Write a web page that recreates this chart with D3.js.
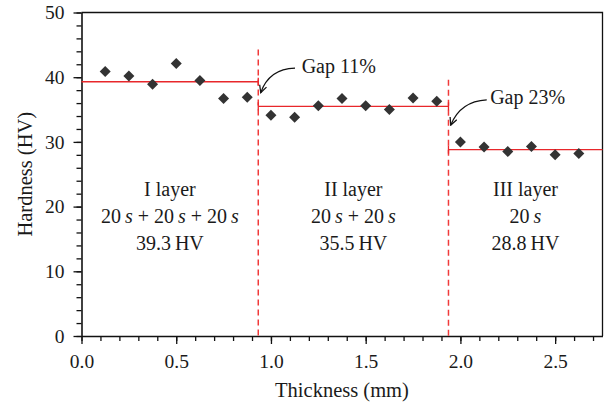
<!DOCTYPE html>
<meta charset="utf-8">
<title>Hardness by layer</title>
<style>
body { margin: 0; background: #fff; }
text { font-family: "Liberation Serif", "Times New Roman", serif; fill: #1a1a1a; }
</style>
<svg width="606" height="408"></svg>
<script src="https://d3js.org/d3.v7.min.js"></script>
<script>
// measured points (thickness in mm, hardness in HV)
var thickness = [0.125, 0.25, 0.375, 0.5, 0.625, 0.75, 0.875,
                 1.0, 1.125, 1.25, 1.375, 1.5, 1.625, 1.75, 1.875,
                 2.0, 2.125, 2.25, 2.375, 2.5, 2.625];
var hardness = [40.9, 40.2, 38.9, 42.1, 39.5, 36.7, 36.9,
                34.1, 33.8, 35.6, 36.7, 35.6, 35.0, 36.8, 36.3,
                30.0, 29.2, 28.5, 29.3, 28.0, 28.2];

// layers: boundaries, mean hardness and labels
var layerStart = [0, 0.933, 1.937];
var layerEnd = [0.933, 1.937, 2.75];
var layerMean = [39.3, 35.5, 28.8];
var layerName = ["I layer", "II layer", "III layer"];
var layerTimes = [3, 2, 1]; // number of 20 s passes
var dashTop = [44.3, 39.6]; // top of the dashed boundary lines

var gapLabels = ["Gap 11%", "Gap 23%"];

var svg = d3.select("svg");
var margin = {top: 12.5, right: 3.5, bottom: 72, left: 81.5};
var width = 606 - margin.left - margin.right;
var height = 408 - margin.top - margin.bottom;

var x = d3.scaleLinear().domain([0, 2.75]).range([0, width]);
var y = d3.scaleLinear().domain([0, 50]).range([height, 0]);

var g = svg.append("g").attr("transform", "translate(" + margin.left + "," + margin.top + ")");

// frame top and right
g.append("path")
    .attr("d", "M0,0H" + width + "V" + height)
    .attr("fill", "none")
    .attr("stroke", "#111")
    .attr("stroke-width", 1.3);

// minor ticks
g.append("g")
    .attr("transform", "translate(0," + height + ")")
    .call(d3.axisBottom(x).tickValues(d3.range(0, 2.76, 0.1)).tickSize(5).tickFormat(""))
    .call(function(s) { s.select(".domain").remove(); });
g.append("g")
    .call(d3.axisLeft(y).tickValues(d3.range(0, 51, 2)).tickSize(5).tickFormat(""))
    .call(function(s) { s.select(".domain").remove(); });

// major ticks
g.append("g")
    .attr("transform", "translate(0," + height + ")")
    .call(d3.axisBottom(x).tickValues([0, 0.5, 1, 1.5, 2, 2.5]).tickSize(8).tickSizeOuter(0).tickPadding(10).tickFormat(d3.format(".1f")));
g.append("g")
    .call(d3.axisLeft(y).tickValues([0, 10, 20, 30, 40, 50]).tickSize(8).tickSizeOuter(0).tickPadding(9));

g.selectAll(".tick line").attr("stroke", "#111").attr("stroke-width", 1.3);
g.selectAll(".domain").attr("stroke", "#111").attr("stroke-width", 1.6);
g.selectAll(".tick text").style("font-family", "Liberation Serif").style("font-size", "19.5px").attr("fill", "#1a1a1a");

// axis titles
g.append("text")
    .attr("x", width / 2)
    .attr("y", height + 61)
    .attr("text-anchor", "middle")
    .style("font-size", "20.5px")
    .text("Thickness (mm)");
g.append("text")
    .attr("transform", "translate(-50," + height / 2 + ") rotate(-90)")
    .attr("text-anchor", "middle")
    .style("font-size", "20.5px")
    .text("Hardness (HV)");

// dashed layer boundaries
g.selectAll(".boundary")
  .data(layerEnd.slice(0, 2))
  .enter().append("line")
    .attr("x1", function(d) { return x(d); })
    .attr("x2", function(d) { return x(d); })
    .attr("y1", function(d, i) { return y(dashTop[i]); })
    .attr("y2", y(0))
    .attr("stroke", "#f03a3a")
    .attr("stroke-width", 1.5)
    .attr("stroke-dasharray", "6,4");

// mean lines with end caps
var red = "#e8272b";
layerMean.forEach(function(m, i) {
  var x0 = x(layerStart[i]), x1 = x(layerEnd[i]), yy = y(m);
  g.append("line").attr("x1", x0).attr("x2", x1).attr("y1", yy).attr("y2", yy)
      .attr("stroke", red).attr("stroke-width", 1.3);
  [x0, x1].forEach(function(xx, k) {
    if ((i === 0 && k === 0) || (i === 2 && k === 1)) return;
    g.append("line").attr("x1", xx).attr("x2", xx).attr("y1", yy - 4).attr("y2", yy + 4)
        .attr("stroke", red).attr("stroke-width", 1.3);
  });
});

// diamonds
g.selectAll(".pt")
  .data(thickness)
  .enter().append("path")
    .attr("class", "pt")
    .attr("transform", function(d, i) { return "translate(" + x(d) + "," + y(hardness[i]) + ")"; })
    .attr("d", "M0,-5.5L5.5,0L0,5.5L-5.5,0Z")
    .attr("fill", "#333");

// layer labels
var lineY = [21.6, 17.4, 13.3];
layerName.forEach(function(name, i) {
  var cx = x((layerStart[i] + layerEnd[i]) / 2);
  var t = g.append("g").attr("text-anchor", "middle").style("font-size", "20px");
  t.append("text").attr("x", cx).attr("y", y(lineY[0])).text(name);
  var l2 = t.append("text").attr("x", cx).attr("y", y(lineY[1]));
  for (var k = 0; k < layerTimes[i]; k++) {
    l2.append("tspan").text((k > 0 ? " + " : "") + "20\u2009");
    l2.append("tspan").style("font-style", "italic").text("s");
  }
  t.append("text").attr("x", cx).attr("y", y(lineY[2])).text(layerMean[i].toFixed(1) + "\u2009HV");
});

// gap annotations
var gapText = [[1.162, 40.7], [2.157, 35.9]];
var arrowFrom = [[1.127, 41.4], [2.139, 36.5]];
var arrowCtrl = [[0.99, 41.3], [2.0, 36.3]];
var arrowTo = [[0.946, 37.6], [1.949, 32.6]];

svg.append("defs").append("marker")
    .attr("id", "head")
    .attr("viewBox", "0 0 10 10")
    .attr("refX", 9).attr("refY", 5)
    .attr("markerWidth", 9).attr("markerHeight", 9)
    .attr("markerUnits", "userSpaceOnUse")
    .attr("orient", "auto")
  .append("path")
    .attr("d", "M1,1L9,5L1,9")
    .attr("fill", "none")
    .attr("stroke", "#111")
    .attr("stroke-width", 1.4);

gapLabels.forEach(function(label, i) {
  var p = d3.path();
  p.moveTo(x(arrowFrom[i][0]), y(arrowFrom[i][1]));
  p.quadraticCurveTo(x(arrowCtrl[i][0]), y(arrowCtrl[i][1]), x(arrowTo[i][0]), y(arrowTo[i][1]));
  g.append("path")
      .attr("d", p.toString())
      .attr("fill", "none")
      .attr("stroke", "#111")
      .attr("stroke-width", 1.2)
      .attr("marker-end", "url(#head)");
  g.append("text")
      .attr("x", x(gapText[i][0]))
      .attr("y", y(gapText[i][1]))
      .style("font-size", "20px")
      .text(label);
});
</script>
